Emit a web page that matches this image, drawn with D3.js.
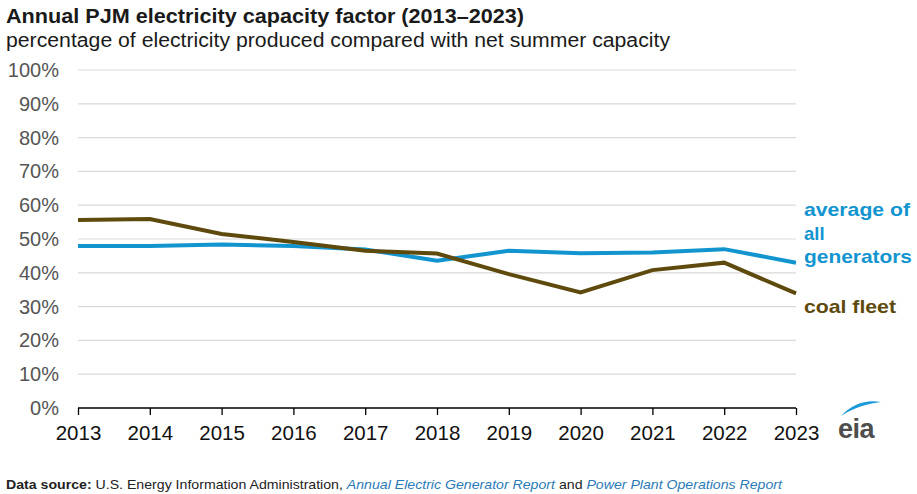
<!DOCTYPE html>
<html><head><meta charset="utf-8">
<script src="https://cdn.jsdelivr.net/npm/d3@7"></script>
<style>body{margin:0;background:#fff;}svg{display:block;font-family:"Liberation Sans",Arial,sans-serif;}</style>
</head><body>
<svg id="c" width="917" height="494"></svg>
<script>
const years = [2013,2014,2015,2016,2017,2018,2019,2020,2021,2022,2023];
const avgAll = [47.9,47.9,48.4,47.9,46.9,43.6,46.5,45.8,46.0,47.0,43.0];
const coal = [55.6,55.9,51.5,49.1,46.5,45.7,39.6,34.2,40.8,43.0,33.9];
const yTicks = [0,10,20,30,40,50,60,70,80,90,100];

const svg = d3.select("#c");
const x = d3.scaleLinear().domain([2013,2023]).range([78,796]);
const y = d3.scaleLinear().domain([0,100]).range([408,70]);

svg.append("text").attr("x",6).attr("y",23).attr("font-size",20).attr("font-weight","bold").attr("fill","#1a1a1a")
  .attr("textLength",518).attr("lengthAdjust","spacingAndGlyphs").text("Annual PJM electricity capacity factor (2013–2023)");
svg.append("text").attr("x",6).attr("y",47).attr("font-size",20).attr("fill","#1a1a1a")
  .attr("textLength",664).attr("lengthAdjust","spacingAndGlyphs").text("percentage of electricity produced compared with net summer capacity");

// grid
svg.append("g").selectAll("line").data(yTicks.filter(d=>d>0)).join("line")
  .attr("x1",78).attr("x2",796).attr("y1",d=>y(d)).attr("y2",d=>y(d))
  .attr("stroke","#d9d9d9").attr("stroke-width",1.2);

// y labels
svg.append("g").selectAll("text").data(yTicks).join("text")
  .attr("x",59).attr("y",d=>y(d)+7).attr("text-anchor","end").attr("font-size",20).attr("fill","#555")
  .text(d=>d+"%");

// x axis
const xa = svg.append("g").attr("transform","translate(0,408)")
  .call(d3.axisBottom(x).tickValues(years).tickFormat(d3.format("d")).tickSize(7).tickPadding(10));
xa.select(".domain").attr("stroke","#000").attr("stroke-width",1.3).attr("d","M78,0H796");
xa.selectAll(".tick line").attr("stroke","#000").attr("stroke-width",1.3);
xa.selectAll(".tick text").attr("font-size",20.5).attr("fill","#111").attr("font-family","Liberation Sans, Arial, sans-serif");

const line = d3.line().x((d,i)=>x(years[i])).y(d=>y(d));
svg.append("path").datum(avgAll).attr("d",line).attr("fill","none").attr("stroke","#1295cf").attr("stroke-width",4);
svg.append("path").datum(coal).attr("d",line).attr("fill","none").attr("stroke","#5e4a0d").attr("stroke-width",4);

// labels
const lab = svg.append("g").attr("font-size",18.5).attr("font-weight","bold");
[["average of",216,106],["all",240,null],["generators",263,108]].forEach(([t,yy,w])=>{
  const el = lab.append("text").attr("x",804).attr("y",yy).attr("fill","#1295cf").text(t);
  if (w) el.attr("textLength",w).attr("lengthAdjust","spacingAndGlyphs");
});
lab.append("text").attr("x",804).attr("y",313).attr("fill","#5e4a0d")
  .attr("textLength",92).attr("lengthAdjust","spacingAndGlyphs").text("coal fleet");

// eia logo
const logo = svg.append("g");
logo.append("path").attr("d","M841,416 Q858,398 881,402 Q872,403 862,406 Q850,410 841,416 Z").attr("fill","#1a9ad6");
logo.append("text").attr("x",838).attr("y",438).attr("font-size",27).attr("font-weight","bold").attr("fill","#4d4d4d").attr("letter-spacing",-0.5).text("eia");

// footer
const f = svg.append("text").attr("x",6).attr("y",489).attr("font-size",13.5).attr("fill","#222")
  .attr("textLength",776).attr("lengthAdjust","spacingAndGlyphs");
f.append("tspan").attr("font-weight","bold").text("Data source: ");
f.append("tspan").text("U.S. Energy Information Administration, ");
f.append("tspan").attr("font-style","italic").attr("fill","#2a7ab8").text("Annual Electric Generator Report");
f.append("tspan").text(" and ");
f.append("tspan").attr("font-style","italic").attr("fill","#2a7ab8").text("Power Plant Operations Report");
</script>
</body></html>
